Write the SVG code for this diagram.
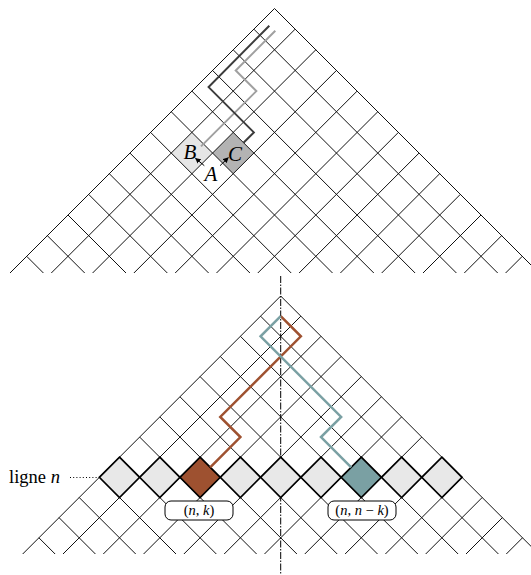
<svg xmlns="http://www.w3.org/2000/svg" width="531" height="575" viewBox="0 0 531 575">
<style>
.grid{fill:none;stroke:#111;stroke-width:1}
.cell{stroke:#000;stroke-width:1.7}
.mi{font-family:"Liberation Serif",serif;font-style:italic}
.rm{font-family:"Liberation Serif",serif}
.lab{fill:#fff;stroke:#000;stroke-width:1}
</style>
<defs>
<marker id="ah" viewBox="0 0 10 10" refX="9" refY="5" markerWidth="5.5" markerHeight="5.5" orient="auto" markerUnits="userSpaceOnUse">
<path d="M0,0 L10,5 L0,10 Z" fill="#000"/>
</marker>
</defs>
<rect width="531" height="575" fill="#fff"/>
<g id="top-cells">
<path id="cellB" d="M191.9,132.4 L212.55,153.05 L191.9,173.7 L171.25,153.05 Z" fill="#e6e6e6"/>
<path id="cellC" d="M233.2,132.4 L253.85,153.05 L233.2,173.7 L212.55,153.05 Z" fill="#b3b3b3"/>
</g>
<g id="top-grid" class="grid">
<path d="M274.5,8.5 L10,273 M295.15,29.15 L51.3,273 M315.8,49.8 L92.6,273 M336.45,70.45 L133.9,273 M357.1,91.1 L175.2,273 M377.75,111.75 L216.5,273 M398.4,132.4 L257.8,273 M419.05,153.05 L299.1,273 M439.7,173.7 L340.4,273 M460.35,194.35 L381.7,273 M481,215 L423,273 M501.65,235.65 L464.3,273 M522.3,256.3 L505.6,273"/>
<path d="M274.5,8.5 L539,273 M253.85,29.15 L497.7,273 M233.2,49.8 L456.4,273 M212.55,70.45 L415.1,273 M191.9,91.1 L373.8,273 M171.25,111.75 L332.5,273 M150.6,132.4 L291.2,273 M129.95,153.05 L249.9,273 M109.3,173.7 L208.6,273 M88.65,194.35 L167.3,273 M68,215 L126,273 M47.35,235.65 L84.7,273 M26.7,256.3 L43.4,273"/>
</g>
<g id="top-paths" fill="none" stroke-width="2" stroke-linejoin="miter">
<path id="path-light" d="M275.3,30.7 L235.7,70.45 L256.35,91.1 L201,146.4" stroke="#a0a0a0"/>
<path id="path-dark" d="M269.3,25.7 L208.6,87.1 L253.85,132.4 L243.5,142.7" stroke="#3c3c3c"/>
</g>
<g id="top-arrows" stroke="#000" stroke-width="1" fill="none">
<line x1="204.3" y1="165.7" x2="195.5" y2="158.3" marker-end="url(#ah)"/>
<line x1="220" y1="165.7" x2="228.3" y2="157.7" marker-end="url(#ah)"/>
</g>
<g id="top-labels" class="mi" font-size="21" text-anchor="middle" fill="#000">
<text x="190" y="159">B</text>
<text x="235" y="160.5">C</text>
<text x="211" y="181">A</text>
</g>
<g id="bottom-grid" class="grid">
<path d="M280.7,296 L22.7,554 M300.85,316.15 L63,554 M321,336.3 L103.3,554 M341.15,356.45 L143.6,554 M361.3,376.6 L183.9,554 M381.45,396.75 L224.2,554 M401.6,416.9 L264.5,554 M421.75,437.05 L304.8,554 M441.9,457.2 L345.1,554 M462.05,477.35 L385.4,554 M482.2,497.5 L425.7,554 M502.35,517.65 L466,554 M522.5,537.8 L506.3,554"/>
<path d="M280.7,296 L538.7,554 M260.55,316.15 L498.4,554 M240.4,336.3 L458.1,554 M220.25,356.45 L417.8,554 M200.1,376.6 L377.5,554 M179.95,396.75 L337.2,554 M159.8,416.9 L296.9,554 M139.65,437.05 L256.6,554 M119.5,457.2 L216.3,554 M99.35,477.35 L176,554 M79.2,497.5 L135.7,554 M59.05,517.65 L95.4,554 M38.9,537.8 L55.1,554"/>
</g>
<g id="axis">
<line x1="280.7" y1="276" x2="280.7" y2="575" stroke="#000" stroke-width="1" stroke-dasharray="7 1.5 1.5 1.5"/>
</g>
<g id="row-n">
<path class="cell" d="M119.5,457.2 L139.65,477.35 L119.5,497.5 L99.35,477.35 Z" fill="#e8e8e8"/>
<path class="cell" d="M159.8,457.2 L179.95,477.35 L159.8,497.5 L139.65,477.35 Z" fill="#e8e8e8"/>
<path class="cell" d="M240.4,457.2 L260.55,477.35 L240.4,497.5 L220.25,477.35 Z" fill="#e8e8e8"/>
<path class="cell" d="M280.7,457.2 L300.85,477.35 L280.7,497.5 L260.55,477.35 Z" fill="#e8e8e8"/>
<path class="cell" d="M321,457.2 L341.15,477.35 L321,497.5 L300.85,477.35 Z" fill="#e8e8e8"/>
<path class="cell" d="M401.6,457.2 L421.75,477.35 L401.6,497.5 L381.45,477.35 Z" fill="#e8e8e8"/>
<path class="cell" d="M441.9,457.2 L462.05,477.35 L441.9,497.5 L421.75,477.35 Z" fill="#e8e8e8"/>
<path id="cell-nk" class="cell" d="M200.1,457.2 L220.25,477.35 L200.1,497.5 L179.95,477.35 Z" fill="#9e5130" stroke-width="2"/>
<path id="cell-nnk" class="cell" d="M361.3,457.2 L381.45,477.35 L361.3,497.5 L341.15,477.35 Z" fill="#7aa0a3" stroke-width="2"/>
</g>
<g id="bottom-paths" fill="none" stroke-width="2.5">
<path id="path-brown" d="M280.7,316.15 L300.85,336.3 L220.25,416.9 L240.4,437.05 L210.2,467.3" stroke="#9e5130"/>
<path id="path-teal" d="M280.7,316.15 L260.55,336.3 L341.15,416.9 L321,437.05 L351.2,467.3" stroke="#7aa0a3"/>
</g>
<g id="label-nk">
<rect class="lab" x="165" y="501" width="68" height="19" rx="6"/>
<text x="199" y="515" font-size="14.5" text-anchor="middle" class="rm">(<tspan class="mi">n</tspan>, <tspan class="mi">k</tspan>)</text>
</g>
<g id="label-nnk">
<rect class="lab" x="328" y="501" width="68" height="19" rx="6"/>
<text x="362" y="515" font-size="14.5" text-anchor="middle" class="rm">(<tspan class="mi">n</tspan>, <tspan class="mi">n</tspan> − <tspan class="mi">k</tspan>)</text>
</g>
<g id="ligne-n">
<text x="9" y="482.5" font-size="18.5" class="rm">ligne <tspan class="mi">n</tspan></text>
<line x1="70" y1="477.5" x2="97" y2="477.5" stroke="#000" stroke-width="1" stroke-dasharray="1 2.2"/>
</g>
</svg>
